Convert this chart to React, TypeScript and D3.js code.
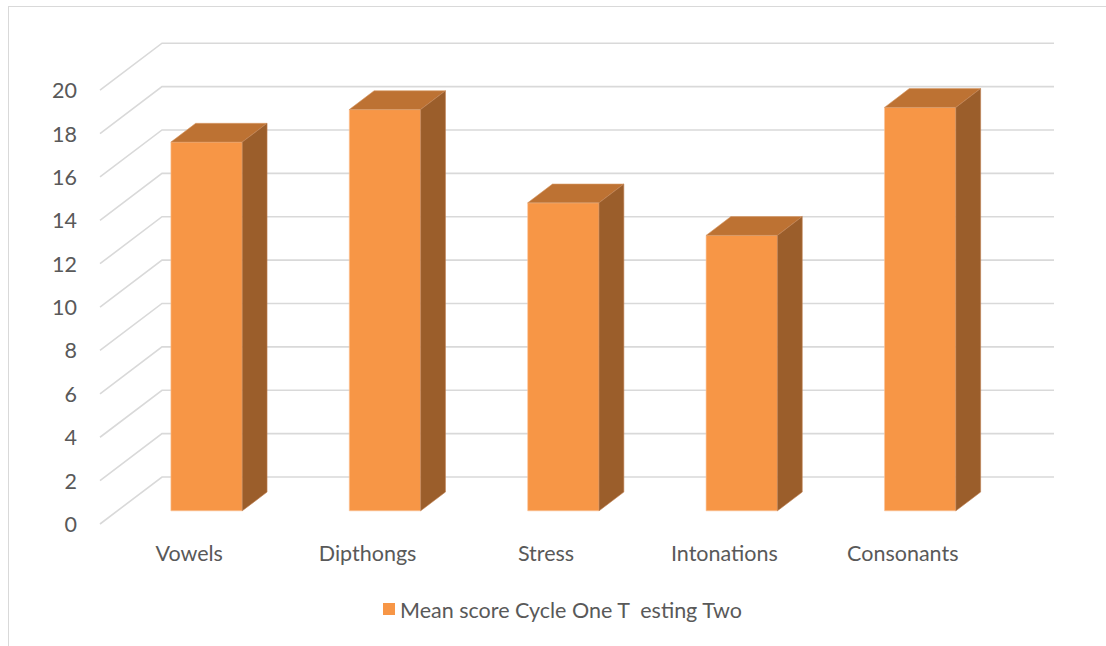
import React from "react";
import * as d3 from "d3";

const categories = ["Vowels", "Dipthongs", "Stress", "Intonations", "Consonants"];
const values = [17.0, 18.5, 14.2, 12.7, 18.6];
const yTicks = [0, 2, 4, 6, 8, 10, 12, 14, 16, 18, 20];
const seriesName = "Mean score Cycle One T  esting Two";

const W = 1106;
const H = 646;
const originX = 100;
const originY = 524;
const depthDX = 62;
const depthDY = -47;
const floorWidth = 892;
const zFront = 0.28;
const zBack = 0.68;

const FONT = "Lato, 'Open Sans', sans-serif";
const FS = 21.5;
const TEXT = "#595959";
const GRID = "#d9d9d9";

export default function App() {
  const y = d3.scaleLinear().domain([0, 20]).range([0, 433.8]);
  const x = d3
    .scaleBand<string>()
    .domain(categories)
    .range([0, floorWidth])
    .paddingInner(0.6)
    .paddingOuter(0.3);

  const P = (px: number, z: number, v: number): [number, number] => [
    originX + px + z * depthDX,
    originY + z * depthDY - y(v),
  ];
  const poly = (pts: [number, number][]) =>
    pts.map((p) => `${p[0].toFixed(2)},${p[1].toFixed(2)}`).join(" ");

  return (
    <svg
      width={W}
      height={H}
      style={{ position: "absolute", left: 0, top: 0, background: "#fff" }}
    >
      <rect x={8.5} y={6.5} width={W + 20} height={H + 20} fill="#fff" stroke={GRID} strokeWidth={1} />
      {yTicks.map((t) => {
        const a = P(0, 0, t);
        const b = P(0, 1, t);
        const c = P(floorWidth, 1, t);
        return (
          <g key={t}>
            <polyline
              points={poly([a, b, c])}
              fill="none"
              stroke={GRID}
              strokeWidth={1.6}
            />
            <text
              x={77}
              y={a[1]}
              textAnchor="end"
              dominantBaseline="central"
              fontFamily={FONT}
              fontSize={FS}
              fill={TEXT}
            >
              {t}
            </text>
          </g>
        );
      })}
      {categories.map((c, i) => {
        const x0 = x(c)!;
        const x1 = x0 + x.bandwidth();
        const v = values[i];
        const front = [P(x0, zFront, 0), P(x1, zFront, 0), P(x1, zFront, v), P(x0, zFront, v)] as [number, number][];
        const top = [P(x0, zFront, v), P(x1, zFront, v), P(x1, zBack, v), P(x0, zBack, v)] as [number, number][];
        const side = [P(x1, zFront, 0), P(x1, zBack, 0), P(x1, zBack, v), P(x1, zFront, v)] as [number, number][];
        return (
          <g key={c}>
            <polygon points={poly(front)} fill="#f79646" stroke="#fbc59b" strokeWidth={0.6} />
            <polygon points={poly(top)} fill="#bd7233" stroke="#d99a66" strokeWidth={0.6} />
            <polygon points={poly(side)} fill="#9b5e2b" stroke="#c08050" strokeWidth={0.6} />
          </g>
        );
      })}
      {categories.map((c) => (
        <text
          key={c}
          x={originX + x(c)! + x.bandwidth() / 2}
          y={553}
          textAnchor="middle"
          dominantBaseline="central"
          fontFamily={FONT}
          fontSize={FS}
          fill={TEXT}
        >
          {c}
        </text>
      ))}
      <rect x={383} y={603} width={12} height={12} fill="#f79646" />
      <text
        x={400}
        y={610}
        dominantBaseline="central"
        fontFamily={FONT}
        fontSize={FS}
        fill={TEXT}
        style={{ whiteSpace: "pre" }}
      >
        {seriesName}
      </text>
    </svg>
  );
}
